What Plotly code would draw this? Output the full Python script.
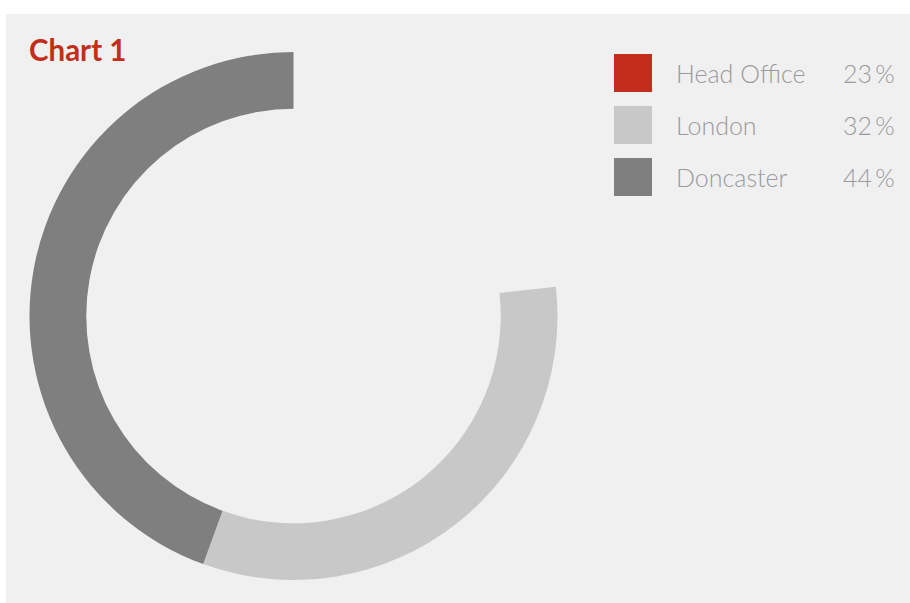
import plotly.graph_objects as go

# ---- data ----
categories = ["Head Office", "London", "Doncaster"]
shares = [23, 32, 44]
legend_colors = ["#c22e1b", "#c8c8c9", "#7f7f80"]
title_text = "Chart 1"

W, H = 910, 603
BG = "#f0f0f0"

def px(x):
    return x / W

def py(y):
    return 1 - y / H

# pie colours: Head Office slice is not drawn (blends into background)
slice_colors = ["rgba(0,0,0,0)", legend_colors[1], legend_colors[2]]

cx, cy, R = 293.5, 316, 264
fig = go.Figure(go.Pie(
    labels=categories,
    values=shares,
    sort=False,
    direction="clockwise",
    rotation=0,
    hole=0.785,
    marker=dict(colors=slice_colors, line=dict(width=0)),
    textinfo="none",
    hoverinfo="label+percent",
    showlegend=False,
    domain=dict(x=[px(cx - R), px(cx + R)], y=[py(cy + R), py(cy - R)]),
))

shapes = [dict(type="rect", xref="paper", yref="paper",
               x0=px(6), x1=1, y0=0, y1=py(14),
               fillcolor=BG, line=dict(width=0), layer="below")]
annotations = [dict(text="<b>" + title_text + "</b>", xref="paper", yref="paper",
                    x=px(27), y=py(50), xanchor="left", yanchor="middle",
                    showarrow=False,
                    font=dict(family="Lato", size=29.5, color="#c22e1b"))]

for i, (cat, val, col) in enumerate(zip(categories, shares, legend_colors)):
    top = 54 + 52 * i
    shapes.append(dict(type="rect", xref="paper", yref="paper",
                       x0=px(614), x1=px(652), y0=py(top + 38), y1=py(top),
                       fillcolor=col, line=dict(width=0)))
    annotations.append(dict(text=cat, xref="paper", yref="paper",
                            x=px(674), y=py(top + 19), xanchor="left", yanchor="middle",
                            showarrow=False,
                            font=dict(family="Lato", size=25, color="#9a9a9c", weight=300)))
    annotations.append(dict(text=f"{val}\u2009%", xref="paper", yref="paper",
                            x=px(897), y=py(top + 19), xanchor="right", yanchor="middle",
                            showarrow=False,
                            font=dict(family="Lato", size=25, color="#9a9a9c", weight=300)))

fig.update_layout(
    width=W, height=H,
    margin=dict(l=0, r=0, t=0, b=0),
    paper_bgcolor="white",
    shapes=shapes,
    annotations=annotations,
)

fig.write_html("out.html")
